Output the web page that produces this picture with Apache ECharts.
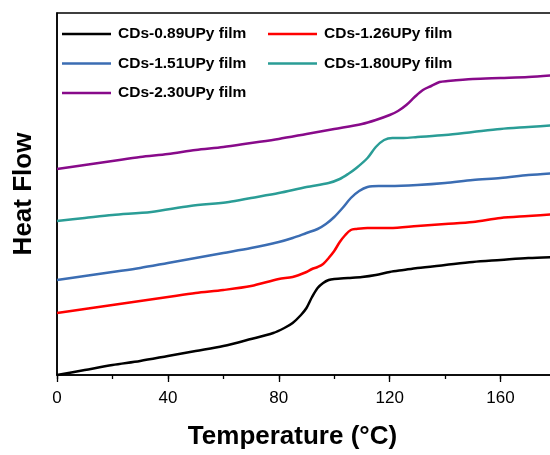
<!DOCTYPE html>
<html>
<head>
<meta charset="utf-8">
<script src="https://cdn.jsdelivr.net/npm/echarts@6/dist/echarts.min.js"></script>
<style>
  html, body { margin: 0; padding: 0; background: #fff; }
  #chart { width: 550px; height: 455px; }
</style>
</head>
<body>
<div id="chart"></div>
<script>
// DSC traces (heat flow, arbitrary offset units) vs temperature in °C
var seriesNames = ['CDs-0.89UPy film', 'CDs-1.26UPy film', 'CDs-1.51UPy film', 'CDs-1.80UPy film', 'CDs-2.30UPy film'];
var seriesColors = ['#000000', '#ff0000', '#3b6db3', '#2a9d96', '#880a8a'];

var temp089 = [0, 10, 20, 30, 40, 50, 60, 70, 78, 82, 85, 88, 90, 92, 94, 96, 98, 100, 105, 110, 115, 120, 125, 130, 140, 150, 160, 170, 180];
var heat089 = [0, 5, 10, 14, 19, 24, 29, 36, 42, 47, 52, 60, 67, 78, 87, 92, 95, 96, 97, 98, 100, 103, 105, 107, 110, 113, 115, 117, 118];

var temp126 = [0, 10, 20, 30, 40, 50, 60, 70, 80, 85, 90, 92, 94, 96, 98, 100, 102, 104, 106, 108, 112, 120, 130, 140, 150, 160, 170, 180];
var heat126 = [62, 66, 70, 74, 78, 82, 85, 89, 96, 98, 103, 106, 108, 111, 117, 124, 133, 140, 145, 146, 147, 147, 149, 151, 153, 157, 159, 161];

var temp151 = [0, 10, 20, 30, 40, 50, 60, 70, 80, 85, 90, 94, 97, 100, 103, 106, 109, 112, 116, 120, 130, 140, 150, 160, 170, 180];
var heat151 = [95, 99, 103, 107, 112, 117, 122, 127, 133, 137, 142, 146, 151, 158, 167, 177, 184, 188, 189, 189, 190, 192, 195, 197, 200, 202];

var temp180 = [0, 10, 20, 34, 48, 62, 70, 80, 90, 98, 102, 105, 108, 112, 115, 118, 121, 125, 130, 140, 150, 160, 170, 180];
var heat180 = [154, 157, 160, 163, 169, 173, 177, 182, 188, 192, 196, 201, 207, 217, 228, 235, 237, 237, 238, 240, 243, 246, 248, 250];

var temp230 = [0, 10, 20, 30, 40, 50, 60, 70, 80, 90, 100, 110, 115, 120, 123, 126, 129, 132, 135, 138, 141, 150, 160, 170, 180];
var heat230 = [206, 210, 214, 218, 221, 225, 228, 232, 236, 241, 246, 251, 255, 260, 264, 270, 278, 285, 289, 293, 294, 296, 297, 298, 300];

var xTicks = [0, 40, 80, 120, 160];

var temps = [temp089, temp126, temp151, temp180, temp230];
var heats = [heat089, heat126, heat151, heat180, heat230];

function pairs(xs, ys) {
  return xs.map(function (x, i) { return [x, ys[i]]; });
}

var FONT = "'Liberation Sans', Arial, sans-serif";

var series = seriesNames.map(function (name, i) {
  return {
    name: name,
    type: 'line',
    data: pairs(temps[i], heats[i]),
    showSymbol: false,
    symbol: 'none',
    smooth: 0.3,
    clip: true,
    lineStyle: { color: seriesColors[i], width: 2.5 },
    itemStyle: { color: seriesColors[i] }
  };
});

var legendCommon = {
  orient: 'vertical',
  top: 19,
  icon: 'rect',
  itemWidth: 49,
  itemHeight: 2.5,
  itemGap: 9.5,
  textStyle: {
    fontFamily: FONT,
    fontSize: 15.5,
    fontWeight: 'bold',
    color: '#000',
    lineHeight: 20,
    padding: [0, 0, 0, 2]
  }
};

var chart = echarts.init(document.getElementById('chart'), null, { renderer: 'canvas' });
chart.setOption({
  animation: false,
  backgroundColor: '#fff',
  grid: {
    left: 57, right: -6, top: 13, bottom: 80,
    containLabel: false,
    outerBoundsMode: 'none',
    show: true, borderColor: '#000', borderWidth: 1.5, backgroundColor: 'transparent'
  },
  legend: [
    Object.assign({ left: 57, data: [seriesNames[0], seriesNames[2], seriesNames[4]] }, legendCommon),
    Object.assign({ left: 263, data: [seriesNames[1], seriesNames[3]] }, legendCommon)
  ],
  xAxis: [
    {
      type: 'value', min: 0, max: 180, interval: 20,
      axisLine: { show: true, lineStyle: { color: '#000', width: 1.5 } },
      axisTick: { show: true, length: 4, lineStyle: { color: '#000', width: 1.3 } },
      splitLine: { show: false },
      axisLabel: {
        color: '#000', fontFamily: FONT, fontSize: 17, margin: 15,
        formatter: function (v) { return xTicks.indexOf(v) >= 0 ? String(v) : ''; }
      },
      name: 'Temperature (°C)',
      nameLocation: 'middle',
      nameGap: 49,
      nameTextStyle: { color: '#000', fontFamily: FONT, fontSize: 26, fontWeight: 'bold', padding: [0, 28, 0, 0] }
    },
    {
      type: 'value', min: 0, max: 180, interval: 40, position: 'bottom',
      axisLine: { show: false },
      axisTick: { show: true, length: 7, lineStyle: { color: '#000', width: 1.3 } },
      splitLine: { show: false },
      axisLabel: { show: false }
    }
  ],
  yAxis: {
    type: 'value', min: 0, max: 362,
    axisLine: { show: true, lineStyle: { color: '#000', width: 1.5 } },
    axisTick: { show: false },
    axisLabel: { show: false },
    splitLine: { show: false },
    name: 'Heat Flow',
    nameLocation: 'middle',
    nameGap: 20,
    nameTextStyle: { color: '#000', fontFamily: FONT, fontSize: 26, fontWeight: 'bold' }
  },
  series: series
});
</script>
</body>
</html>
